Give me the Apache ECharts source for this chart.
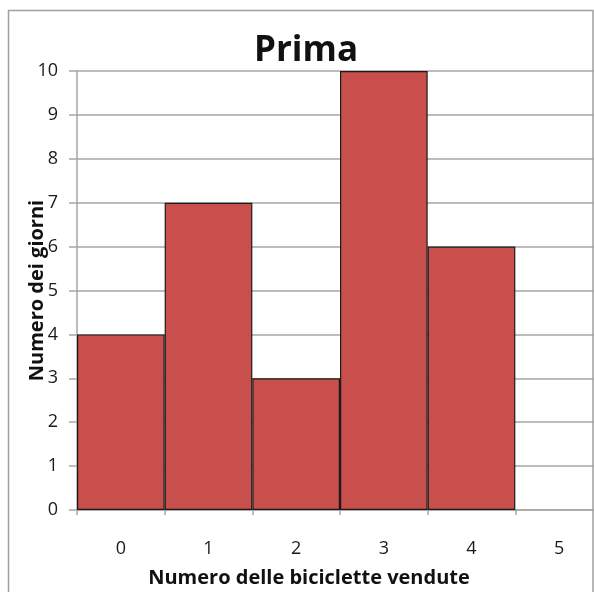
<!DOCTYPE html>
<html>
<head>
<meta charset="utf-8">
<script src="https://cdn.jsdelivr.net/npm/echarts@6/dist/echarts.min.js"></script>
<style>
html,body{margin:0;padding:0;background:#fff;}
#c{width:594px;height:592px;}
</style>
</head>
<body>
<div id="c"></div>
<script>
const categories = ['0', '1', '2', '3', '4', '5'];
const values = [4, 7, 3, 10, 6, null];
const yTicks = [0, 1, 2, 3, 4, 5, 6, 7, 8, 9, 10];
const titleText = 'Prima';
const xName = 'Numero delle biciclette vendute';
const yName = 'Numero dei giorni';

const chart = echarts.init(document.getElementById('c'), null, {renderer: 'canvas'});
const font = '"Open Sans", "DejaVu Sans", sans-serif';
chart.setOption({
  animation: false,
  backgroundColor: '#fff',
  grid: {left: 77, width: 526, top: 71, bottom: 82, containLabel: false, outerBoundsMode: 'none'},
  xAxis: {
    type: 'category',
    data: categories,
    boundaryGap: true,
    axisLine: {show: true, lineStyle: {color: '#a6a6a6', width: 1.5}},
    axisTick: {show: true, alignWithLabel: false, length: 5, lineStyle: {color: '#a6a6a6', width: 1.5}},
    axisLabel: {margin: 30, color: '#1a1a1a', fontSize: 18, fontFamily: font},
    splitLine: {show: false}
  },
  yAxis: {
    type: 'value',
    min: yTicks[0],
    max: yTicks[yTicks.length - 1],
    interval: 1,
    name: yName,
    nameLocation: 'middle',
    nameGap: 30,
    nameMoveOverlap: false,
    nameTextStyle: {fontSize: 20, fontWeight: 'bold', color: '#111', fontFamily: font},
    axisLine: {show: true, lineStyle: {color: '#a6a6a6', width: 1.5}},
    axisTick: {show: true, length: 8, lineStyle: {color: '#a6a6a6', width: 1.5}},
    axisLabel: {margin: 19, color: '#1a1a1a', fontSize: 18, fontFamily: font},
    splitLine: {show: true, lineStyle: {color: '#a6a6a6', width: 1.5}}
  },
  series: [{
    type: 'bar',
    data: values,
    barCategoryGap: '0%',
    itemStyle: {color: '#c84f4c', borderColor: '#1a1a1a', borderWidth: 1.2}
  }],
  graphic: [
    {type: 'rect', shape: {x: 8.5, y: 10.5, width: 584.5, height: 600}, style: {fill: null, stroke: '#a0a0a0', lineWidth: 1.5}, z: 100, silent: true},
    {type: 'text', style: {text: titleText, x: 306, y: 51, align: 'center', verticalAlign: 'middle', font: 'bold 35px ' + font, fill: '#111'}, z: 100},
    {type: 'text', style: {text: xName, x: 309, y: 578, align: 'center', verticalAlign: 'middle', font: 'bold 20px ' + font, fill: '#111'}, z: 100}
  ]
});
</script>
</body>
</html>
